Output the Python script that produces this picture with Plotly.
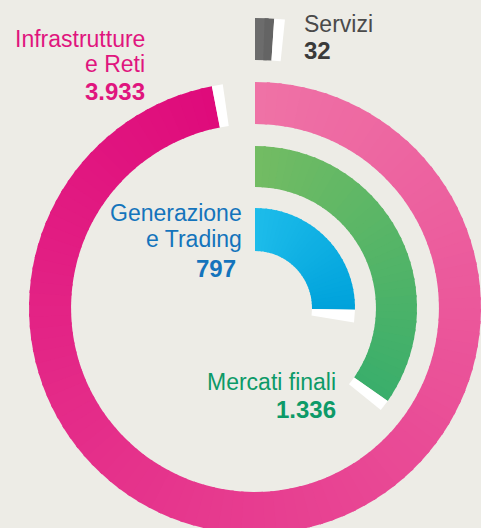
import numpy as np
import plotly.graph_objects as go

# -- Data ---------------------------------------------------------------------
SEGMENTI = ["Infrastrutture e Reti", "Mercati finali", "Generazione e Trading", "Servizi"]
VALORI = [3933, 1336, 797, 32]
ETICHETTE_VALORE = ["3.933", "1.336", "797", "32"]
# angular sweep of each arc as drawn in the original (degrees, clockwise from 12 o'clock)
SWEEP_GRADI = [349, 125, 91, 3.8]

# -- Style ----------------------------------------------------------------------
_BG = "#edece6"
_FONT = "Liberation Sans, Arial, sans-serif"
_CX, _CY = 255, 308          # ring centre, pixel coords
_CAP_PX = 10                 # white end cap thickness

_STYLE = {
    "Infrastrutture e Reti": dict(r=(184, 226), c0="#ef72a6", c1="#df0b7b", text="#e0157e"),
    "Mercati finali":        dict(r=(121, 162), c0="#73bc63", c1="#3aae6b", text="#0d9a68"),
    "Generazione e Trading": dict(r=(57, 100),  c0="#1dbcea", c1="#00a2db", text="#1474bc"),
    "Servizi":               dict(r=(248, 290), c0="#707070", c1="#606060", text="#4a4a4a"),
}

# label lines: (text, x, baseline_y, anchor)
_LABELS = {
    "Infrastrutture e Reti": [("Infrastrutture", 147, 47, "right"), ("e Reti", 147, 72, "right")],
    "Mercati finali":        [("Mercati finali", 338, 390, "right")],
    "Generazione e Trading": [("Generazione", 244, 221, "right"), ("e Trading", 244, 247, "right")],
    "Servizi":               [("Servizi", 302, 32, "left")],
}
_VALUE_POS = {
    "Infrastrutture e Reti": (147, 99, "right"),
    "Mercati finali":        (338, 417, "right"),
    "Generazione e Trading": (238, 276, "right"),
    "Servizi":               (302, 58, "left"),
}


def _hex_to_rgb(h):
    h = h.lstrip("#")
    return np.array([int(h[i:i + 2], 16) for i in (0, 2, 4)], dtype=float)


def _mix(c0, c1, t):
    rgb = _hex_to_rgb(c0) * (1 - t) + _hex_to_rgb(c1) * t
    return "rgb(%d,%d,%d)" % tuple(np.round(rgb).astype(int))


def _arc_xy(a0, a1, r_in, r_out, n=12):
    """Closed polygon of a ring sector, angles in degrees clockwise from top."""
    a = np.radians(np.linspace(a0, a1, n))
    xo, yo = _CX + r_out * np.sin(a), _CY - r_out * np.cos(a)
    xi, yi = _CX + r_in * np.sin(a[::-1]), _CY - r_in * np.cos(a[::-1])
    x = np.concatenate([xo, xi, xo[:1]])
    y = np.concatenate([yo, yi, yo[:1]])
    return x, y


def _add_sector(fig, a0, a1, r_in, r_out, color):
    x, y = _arc_xy(a0, a1, r_in, r_out)
    fig.add_trace(go.Scatter(
        x=x, y=y, mode="lines", fill="toself",
        fillcolor=color, line=dict(color=color, width=0),
        hoverinfo="skip", showlegend=False,
    ))


fig = go.Figure()

for seg, val, sweep in zip(SEGMENTI, VALORI, SWEEP_GRADI):
    st = _STYLE[seg]
    r_in, r_out = st["r"]
    # gradient along the sweep; each piece overlaps the next a little to hide seams
    n_steps = max(2, int(sweep / 3))
    edges = np.linspace(0, sweep, n_steps + 1)
    for i in range(n_steps):
        t = (i + 0.5) / n_steps
        a1 = edges[i + 1] + (0.8 if i < n_steps - 1 else 0)
        _add_sector(fig, edges[i], a1, r_in, r_out, _mix(st["c0"], st["c1"], t))
    # white cap at the end of the arc
    cap_deg = np.degrees(_CAP_PX / ((r_in + r_out) / 2))
    x, y = _arc_xy(sweep, sweep + cap_deg, r_in, r_out)
    fig.add_trace(go.Scatter(
        x=x, y=y, mode="lines", fill="toself", fillcolor="white",
        line=dict(color="white", width=0), hoverinfo="skip", showlegend=False,
    ))

annotations = []
for seg, vtxt in zip(SEGMENTI, ETICHETTE_VALORE):
    st = _STYLE[seg]
    for txt, x, base, anchor in _LABELS[seg]:
        annotations.append(dict(
            x=x, y=base - 8, text=txt, xanchor=anchor, yanchor="middle",
            showarrow=False, font=dict(family=_FONT, size=23, color=st["text"]),
        ))
    x, base, anchor = _VALUE_POS[seg]
    vcol = "#3a3a3a" if seg == "Servizi" else st["text"]
    annotations.append(dict(
        x=x, y=base - 8, text="<b>%s</b>" % vtxt, xanchor=anchor, yanchor="middle",
        showarrow=False, font=dict(family=_FONT, size=24, color=vcol),
    ))

fig.update_layout(
    width=481, height=528,
    margin=dict(l=0, r=0, t=0, b=0),
    paper_bgcolor=_BG, plot_bgcolor=_BG,
    xaxis=dict(range=[0, 481], visible=False, fixedrange=True),
    yaxis=dict(range=[528, 0], visible=False, fixedrange=True),
    annotations=annotations,
    showlegend=False,
)

fig.write_html(
    "out.html",
    config={"displayModeBar": False},
    post_script="document.body.style.margin='0';document.body.style.background='%s';" % _BG,
)
